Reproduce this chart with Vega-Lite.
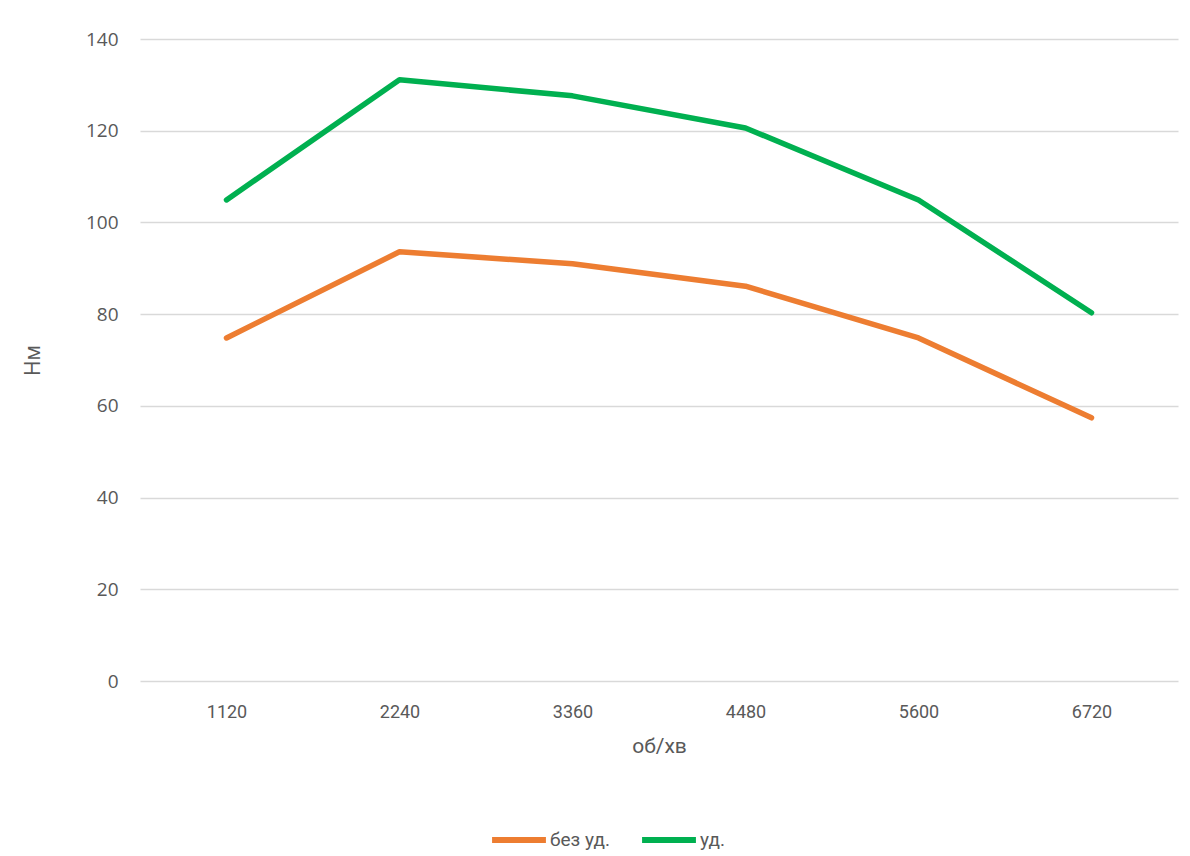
{
  "$schema": "https://vega.github.io/schema/vega-lite/v6.json",
  "width": 1038,
  "height": 642,
  "autosize": {"type": "none"},
  "padding": {"left": 140, "top": 39, "right": 12, "bottom": 175},
  "background": "white",
  "data": {
    "values": [
      {"rpm": "1120", "series": "без уд.", "torque": 74.8},
      {"rpm": "2240", "series": "без уд.", "torque": 93.6},
      {"rpm": "3360", "series": "без уд.", "torque": 91.0},
      {"rpm": "4480", "series": "без уд.", "torque": 86.1},
      {"rpm": "5600", "series": "без уд.", "torque": 74.8},
      {"rpm": "6720", "series": "без уд.", "torque": 57.4},
      {"rpm": "1120", "series": "уд.", "torque": 104.9},
      {"rpm": "2240", "series": "уд.", "torque": 131.1},
      {"rpm": "3360", "series": "уд.", "torque": 127.6},
      {"rpm": "4480", "series": "уд.", "torque": 120.6},
      {"rpm": "5600", "series": "уд.", "torque": 104.9},
      {"rpm": "6720", "series": "уд.", "torque": 80.3}
    ]
  },
  "mark": {"type": "line", "strokeWidth": 5.5, "strokeCap": "round", "strokeJoin": "round"},
  "encoding": {
    "x": {
      "field": "rpm",
      "type": "ordinal",
      "sort": null,
      "scale": {"type": "point", "padding": 0.5},
      "axis": {
        "title": "об/хв",
        "labelAngle": 0,
        "labelFont": "Roboto",
        "labelFontSize": 18,
        "labelColor": "#595959",
        "labelPadding": 22,
        "ticks": false,
        "domain": false,
        "grid": false,
        "titleFont": "Roboto",
        "titleFontSize": 21,
        "titleFontWeight": "normal",
        "titleColor": "#595959",
        "titlePadding": 14
      }
    },
    "y": {
      "field": "torque",
      "type": "quantitative",
      "scale": {"domain": [0, 140], "nice": false},
      "axis": {
        "title": "Нм",
        "values": [0, 20, 40, 60, 80, 100, 120, 140],
        "labelFont": "Open Sans",
        "labelFontSize": 19,
        "labelColor": "#595959",
        "labelPadding": 22,
        "ticks": false,
        "domain": false,
        "grid": true,
        "gridColor": "#D9D9D9",
        "gridWidth": 1.3,
        "titleFont": "Open Sans",
        "titleFontSize": 21,
        "titleFontWeight": "normal",
        "titleColor": "#595959",
        "titlePadding": 42
      }
    },
    "color": {
      "field": "series",
      "type": "nominal",
      "scale": {"domain": ["без уд.", "уд."], "range": ["#ED7D31", "#00B050"]},
      "legend": {
        "title": null,
        "orient": "none",
        "direction": "horizontal",
        "legendX": 349,
        "legendY": 771,
        "symbolType": "stroke",
        "symbolSize": 2900,
        "symbolStrokeWidth": 6,
        "labelFont": "Roboto",
        "labelFontSize": 19,
        "labelColor": "#595959",
        "labelOffset": 1,
        "columnPadding": 20
      }
    }
  },
  "config": {"view": {"stroke": null}}
}
